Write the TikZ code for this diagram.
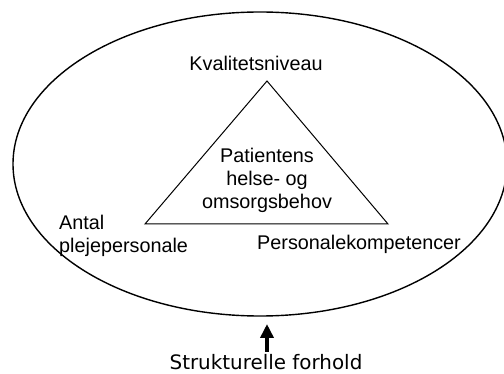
\documentclass[tikz,border=0pt]{standalone}
\usepackage{fontspec}
\setmainfont{Liberation Sans}
\newfontfamily\dejavu{DejaVu Sans}
\usetikzlibrary{arrows.meta}

\begin{document}
\begin{tikzpicture}[x=1pt,y=-1pt,
    lbl/.style={inner sep=0pt,font=\fontsize{19.8}{23}\selectfont},
    arr/.style={line width=3.6pt,-{Triangle[length=14pt,width=13pt]}}]
    \useasboundingbox (0,0) rectangle (504,374);
    \draw[line width=1.4pt] (260,164) ellipse [x radius=247pt, y radius=152pt];
    \coordinate (top) at (267,81);
    \coordinate (left) at (145,224);
    \coordinate (right) at (388,224);
    \draw[line width=1pt,line join=miter] (top) -- (left) -- (right) -- cycle;
    \node[lbl,anchor=base] (kval) at (256,71) {Kvalitetsniveau};
    \node[lbl,align=center] (behov) at (267,180) {Patientens\\helse- og\\omsorgsbehov};
    \node[lbl,align=left,anchor=north west] (antal) at (59,215) {Antal\\plejepersonale};
    \node[lbl,anchor=base] (komp) at (359,250) {Personalekompetencer};
    \node[lbl,anchor=base,font=\dejavu\fontsize{19.9}{23}\selectfont] (strukt) at (266,370) {Strukturelle forhold};
    \coordinate (tip) at (267,324);
    \draw[arr,shorten <=3pt] (strukt.north -| tip) -- (tip);
\end{tikzpicture}
\end{document}
